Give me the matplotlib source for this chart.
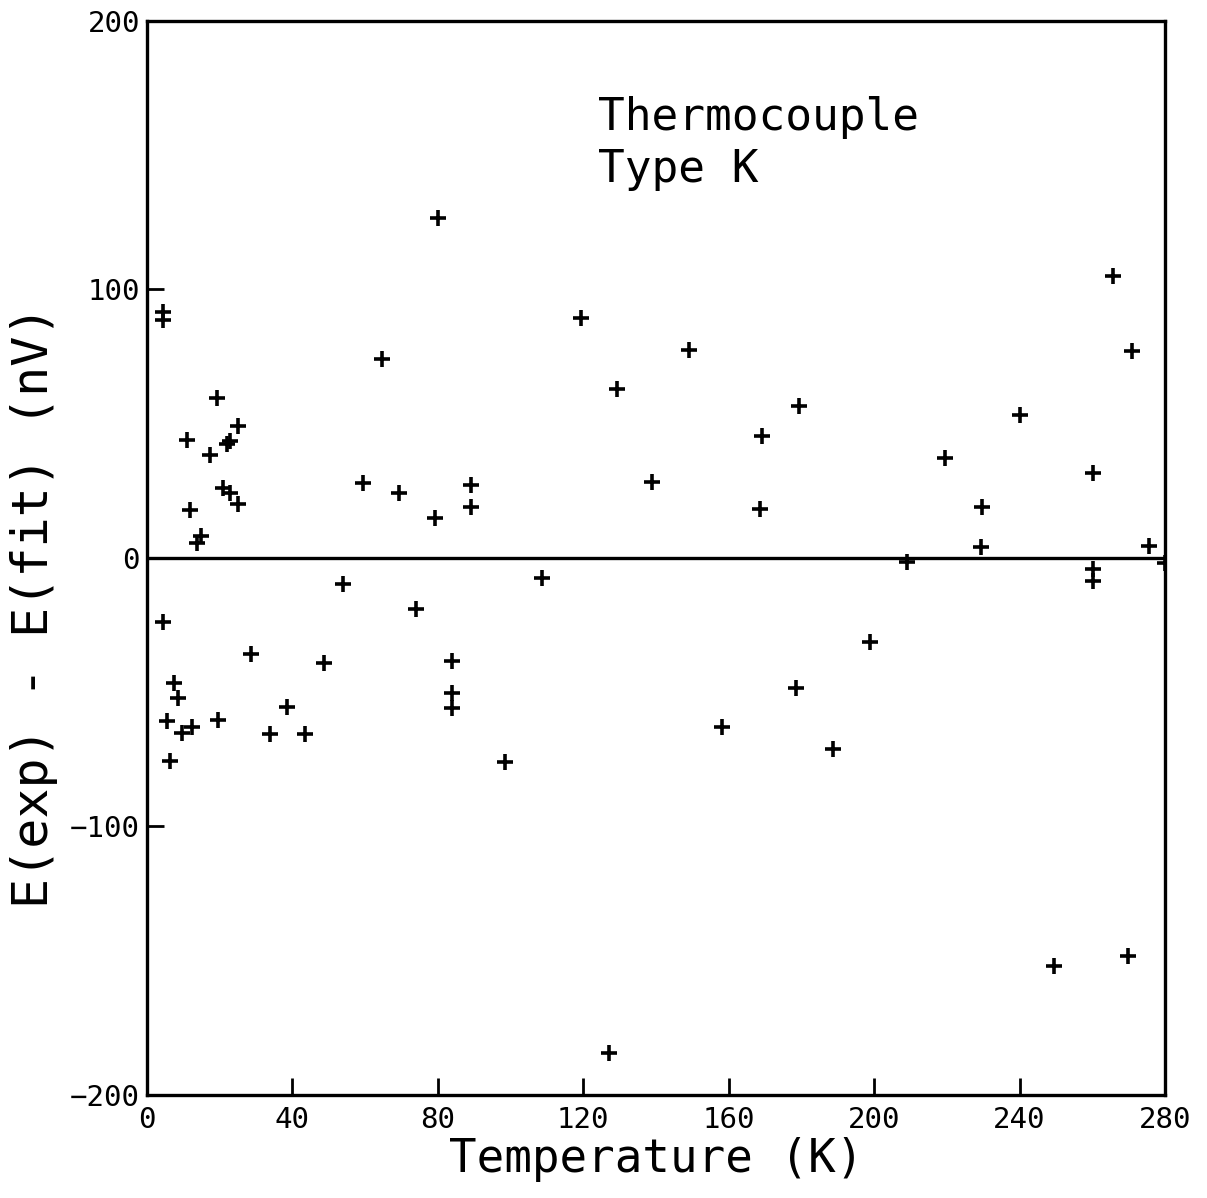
import matplotlib.pyplot as plt

# residuals of the type K thermocouple fit
temperature = [4.4, 4.4, 19.2, 11.1, 25.0, 22.9, 22.1, 17.2, 20.8, 22.9,
               25.0, 11.8, 14.9, 13.8, 64.6, 59.4, 69.2, 79.1, 89.1, 89.1,
               79.9, 119.5, 149.0, 129.2, 139.0, 108.7, 54.0, 74.1, 4.5, 28.6,
               48.6, 83.9, 83.9, 83.9, 7.4, 8.6, 38.6, 5.4, 19.4, 12.5,
               9.6, 33.7, 43.5, 6.3, 98.6, 198.9, 178.6, 158.2, 188.7, 265.6,
               270.8, 179.2, 240.1, 169.2, 219.5, 260.2, 168.6, 229.8, 229.4, 275.5,
               209.1, 260.3, 260.3, 280.0, 249.4, 269.8, 127.0]
residual = [91.5, 88.7, 59.4, 44.1, 49.1, 43.7, 42.6, 38.3, 25.9, 24.2,
            20.2, 17.8, 8.2, 5.5, 74.2, 27.8, 24.1, 15.0, 27.0, 19.0,
            126.8, 89.3, 77.6, 63.1, 28.4, -7.6, -9.6, -19.1, -23.8, -35.6,
            -39.3, -38.3, -50.3, -56.0, -46.4, -52.3, -55.4, -60.6, -60.2, -63.1,
            -65.3, -65.5, -65.5, -75.5, -76.1, -31.2, -48.6, -62.8, -71.1, 105.0,
            77.2, 56.5, 53.3, 45.4, 37.1, 31.7, 18.1, 19.0, 4.1, 4.3,
            -1.5, -4.2, -8.6, -2.0, -152.0, -148.3, -184.4]

x_ticks = [0, 40, 80, 120, 160, 200, 240, 280]
y_ticks = [-200, -100, 0, 100, 200]

plt.rcParams['font.family'] = 'DejaVu Sans Mono'

fig = plt.figure(figsize=(12.07, 11.98), dpi=100)
ax = fig.add_axes([0.1218, 0.086, 0.8434, 0.8965])

ax.plot(temperature, residual, '+', color='black', markersize=12, markeredgewidth=2.6)
ax.axhline(0, color='black', linewidth=2.4)

ax.set_xlim(0, 280)
ax.set_ylim(-200, 200)
ax.set_xticks(x_ticks)
ax.set_yticks(y_ticks)
ax.tick_params(direction='in', length=12, width=2, labelsize=21, pad=5)
ax.tick_params(axis='x', pad=8)
for s in ax.spines.values():
    s.set_linewidth(2.4)

ax.set_xlabel('Temperature (K)', fontsize=33, labelpad=2)
ax.set_ylabel('E(exp) - E(fit) (nV)', fontsize=36)
ax.yaxis.set_label_coords(-0.087, 0.455)

ax.text(124, 172, 'Thermocouple\nType K', fontsize=32, va='top', ha='left',
        linespacing=1.25)

plt.savefig('out.png', dpi=100)
